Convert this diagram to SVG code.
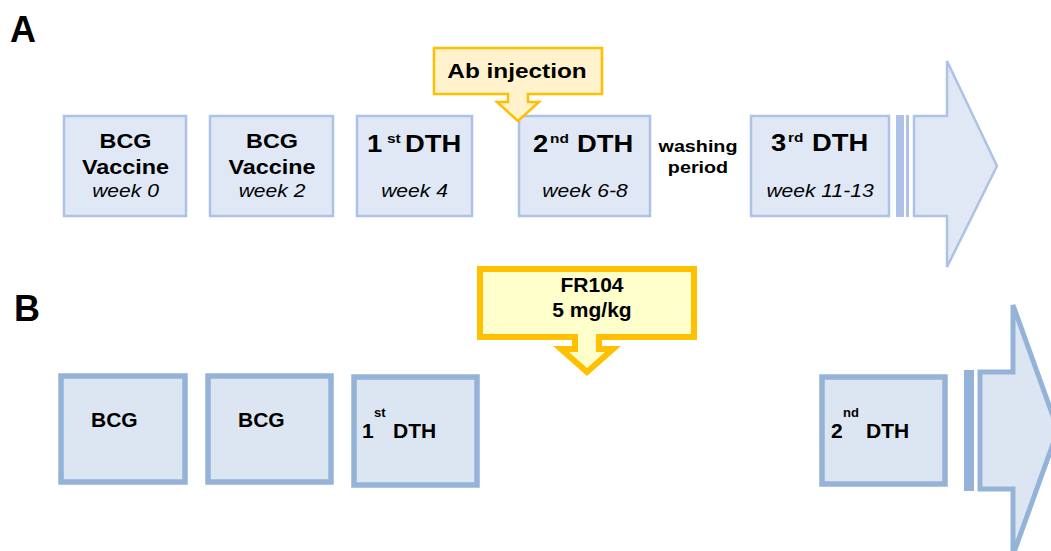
<svg xmlns="http://www.w3.org/2000/svg" width="1051" height="551" viewBox="0 0 1051 551">
<style>
text{font-family:"Liberation Sans",Arial,sans-serif;fill:#000}
.lbl{font-size:36px;font-weight:bold}
.boxA{fill:#e1e8f5;stroke:#adc2e6;stroke-width:2.5}
.boxB{fill:#dce6f2;stroke:#95b3d7;stroke-width:5.5}
.tA{font-size:20px;font-weight:bold;text-anchor:middle}
.wk{font-size:18px;font-style:italic;text-anchor:middle}
.dA{font-size:24px;font-weight:bold}
.supA{font-size:13.5px;font-weight:bold}
.wash{font-size:17px;font-weight:bold;text-anchor:middle}
.ab{font-size:21px;font-weight:bold;text-anchor:middle}
.tB{font-size:21px;font-weight:bold}
.supB{font-size:13px;font-weight:bold}
.callA{fill:#fff2cc;stroke:#ffc000;stroke-width:2.5}
.callB{fill:#ffffcc;stroke:#ffc000;stroke-width:6}
</style>
<text class="lbl" x="10" y="42">A</text>
<text class="lbl" x="14" y="321">B</text>

<g id="a-bcg1">
<rect class="boxA" x="64" y="116" width="122" height="100"/>
<text class="tA" transform="translate(125.5,148) scale(1.17,1)">BCG</text>
<text class="tA" transform="translate(125.5,174) scale(1.17,1)">Vaccine</text>
<text class="wk" transform="translate(125.5,197) scale(1.17,1)">week 0</text>
</g>
<g id="a-bcg2">
<rect class="boxA" x="210" y="116" width="123" height="100"/>
<text class="tA" transform="translate(272,148) scale(1.17,1)">BCG</text>
<text class="tA" transform="translate(272,174) scale(1.17,1)">Vaccine</text>
<text class="wk" transform="translate(272,197) scale(1.17,1)">week 2</text>
</g>
<g id="a-dth1">
<rect class="boxA" x="357" y="116" width="115" height="100"/>
<text class="dA" transform="translate(367,152) scale(1.14,1)">1</text>
<text class="supA" transform="translate(387,143) scale(1.14,1)">st</text>
<text class="dA" transform="translate(405,152) scale(1.14,1)">DTH</text>
<text class="wk" transform="translate(414.5,197) scale(1.17,1)">week 4</text>
</g>
<g id="a-dth2">
<rect class="boxA" x="519" y="116" width="131" height="100"/>
<text class="dA" transform="translate(533,152) scale(1.14,1)">2</text>
<text class="supA" transform="translate(550,143) scale(1.14,1)">nd</text>
<text class="dA" transform="translate(577,152) scale(1.14,1)">DTH</text>
<text class="wk" transform="translate(585,197) scale(1.17,1)">week 6-8</text>
</g>
<g id="a-wash">
<text class="wash" transform="translate(698,152) scale(1.16,1)">washing</text>
<text class="wash" transform="translate(698,173) scale(1.16,1)">period</text>
</g>
<g id="a-dth3">
<rect class="boxA" x="751" y="116" width="138" height="100"/>
<text class="dA" transform="translate(771,151) scale(1.14,1)">3</text>
<text class="supA" transform="translate(788,142) scale(1.14,1)">rd</text>
<text class="dA" transform="translate(812,151) scale(1.14,1)">DTH</text>
<text class="wk" transform="translate(820,197) scale(1.17,1)">week 11-13</text>
</g>
<g id="a-ab">
<path class="callA" d="M434,48 H602 V94 H528 V102 H539 L518,121 L497,102 H508 V94 H434 Z"/>
<text class="ab" transform="translate(517,78) scale(1.16,1)">Ab injection</text>
</g>
<g id="a-arrow">
<rect x="896" y="115" width="8" height="102" fill="#adc2e6"/>
<rect x="906" y="115" width="3" height="102" fill="#adc2e6"/>
<path class="boxA" d="M914,116 H947 V61 L997,166 L947,267 V216 H914 Z"/>
</g>

<g id="b-bcg1">
<rect class="boxB" x="61" y="376" width="124" height="106"/>
<text class="tB" x="91" y="427">BCG</text>
</g>
<g id="b-bcg2">
<rect class="boxB" x="208" y="376" width="123" height="106"/>
<text class="tB" x="238" y="427">BCG</text>
</g>
<g id="b-dth1">
<rect class="boxB" x="354" y="377" width="123" height="108"/>
<text class="tB" x="362" y="438">1</text>
<text class="supB" x="374" y="417">st</text>
<text class="tB" x="393" y="438">DTH</text>
</g>
<g id="b-fr104">
<path class="callB" d="M480,269 H694 V337 H599 V349 H613 L587,372 L561,349 H575 V337 H480 Z"/>
<text class="tB" x="592" y="292" text-anchor="middle">FR104</text>
<text class="tB" x="592" y="317" text-anchor="middle">5 mg/kg</text>
</g>
<g id="b-dth2">
<rect class="boxB" x="822" y="377" width="123" height="107"/>
<text class="tB" x="831" y="438">2</text>
<text class="supB" x="843" y="417">nd</text>
<text class="tB" x="866" y="438">DTH</text>
</g>
<g id="b-arrow">
<rect x="964" y="370" width="10" height="121" fill="#95b3d7"/>
<path d="M980,372 H1013 V305 L1058,430 L1013,555 V489 H980 Z" fill="#dce6f2" stroke="#95b3d7" stroke-width="5"/>
</g>
</svg>
